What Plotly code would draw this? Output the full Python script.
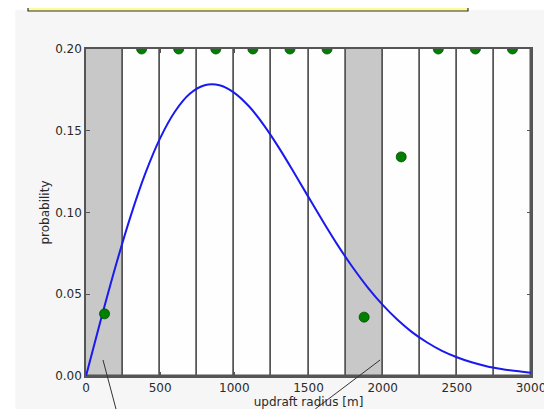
import plotly.graph_objects as go

# Histogram bins (edges every 250 m) and observed probabilities (dots)
bin_centers = [125, 375, 625, 875, 1125, 1375, 1625, 1875, 2125, 2375, 2625, 2875]
observed = [0.038, 0.2, 0.2, 0.2, 0.2, 0.2, 0.2, 0.036, 0.134, 0.2, 0.2, 0.2]
highlighted = [True, False, False, False, False, False, False, True, False, False, False, False]

# Fitted distribution curve
curve_r = [0, 100, 200, 300, 400, 500, 600, 700, 800, 900, 1000, 1100, 1200, 1300,
           1400, 1500, 1600, 1700, 1800, 1900, 2000, 2100, 2200, 2300, 2400, 2500,
           2600, 2700, 2800, 2900, 3000]
curve_p = [0.0, 0.0344, 0.0673, 0.0975, 0.1239, 0.1455, 0.1618, 0.1726, 0.1778, 0.1778,
           0.1732, 0.1648, 0.1533, 0.1397, 0.1248, 0.1094, 0.0942, 0.0796, 0.0662,
           0.0541, 0.0435, 0.0344, 0.0267, 0.0205, 0.0154, 0.0115, 0.0084, 0.0060,
           0.0043, 0.0030, 0.0020]

x_ticks = [0, 500, 1000, 1500, 2000, 2500, 3000]
y_ticks = [0.00, 0.05, 0.10, 0.15, 0.20]
y_tick_text = ["0.00", "0.05", "0.10", "0.15", "0.20"]

fig = go.Figure()

fig.add_trace(go.Bar(
    x=bin_centers,
    y=[0.2] * len(bin_centers),
    width=250,
    marker=dict(color=["#c8c8c8" if h else "rgba(255,255,255,0.85)" for h in highlighted],
                line=dict(color="#555555", width=1.5)),
    hoverinfo="skip",
    showlegend=False,
))

fig.add_trace(go.Scatter(
    x=curve_r, y=curve_p, mode="lines",
    line=dict(color="#1a1aee", width=2, shape="spline"),
    showlegend=False,
))

fig.add_trace(go.Scatter(
    x=bin_centers, y=observed, mode="markers",
    marker=dict(color="#008000", size=10, line=dict(color="#004d00", width=0.8)),
    cliponaxis=True,
    showlegend=False,
))

font = dict(family="DejaVu Sans", size=12, color="#2a2a2a")

fig.update_layout(
    width=552, height=409,
    margin=dict(l=78, r=29, t=41, b=41),
    paper_bgcolor="#ffffff",
    plot_bgcolor="rgba(255,255,255,0)",
    bargap=0,
    font=font,
    xaxis=dict(range=[0, 3000], tickvals=x_ticks, ticks="inside", ticklen=4,
               tickcolor="#555555", showgrid=False, zeroline=False,
               showline=True, linecolor="#555555", linewidth=1.5, mirror="ticks",
               title=dict(text="updraft radius [m]", font=dict(size=12, color="#2a2a2a"),
                          standoff=0)),
    yaxis=dict(range=[0, 0.2], tickvals=y_ticks, ticktext=y_tick_text, ticks="inside",
               ticklen=4, tickcolor="#555555", showgrid=False, zeroline=False,
               showline=True, linecolor="#555555", linewidth=1.5, mirror="ticks",
               title=dict(text="probability", font=dict(size=12, color="#2a2a2a"),
                          standoff=3)),
    shapes=[
        # light slide panel behind the chart
        dict(type="rect", xref="paper", yref="paper", x0=-0.159, x1=1.06, y0=-0.12, y1=1.12,
             fillcolor="#f6f6f6", line=dict(width=0), layer="below"),
        # yellow callout box at top
        dict(type="rect", xref="paper", yref="paper", x0=-0.1303, x1=0.8584, y0=1.1162, y1=1.2,
             fillcolor="#fffa9e", line=dict(color="#333333", width=1.2), layer="above"),
        # pointer lines from below into the shaded bins
        dict(type="line", xref="paper", yref="paper", x0=0.0382, y0=0.049, x1=0.0674, y1=-0.101,
             line=dict(color="#333333", width=1)),
        dict(type="line", xref="paper", yref="paper", x0=0.661, y0=0.049, x1=0.515, y1=-0.101,
             line=dict(color="#333333", width=1)),
    ],
)

fig.write_html("out.html")
